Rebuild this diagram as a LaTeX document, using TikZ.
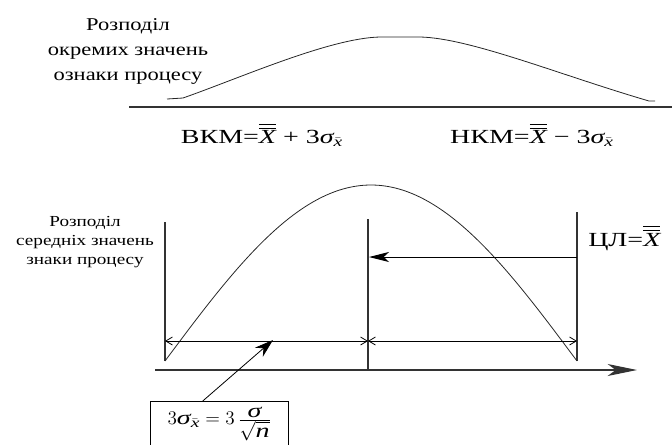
\documentclass[tikz,border=0pt]{standalone}
\usepackage{amsmath}
\usepackage{fontspec}
\setmainfont{Liberation Serif}
\newfontfamily\widefont[FakeStretch=1.25]{Liberation Serif}
\newfontfamily\formfont[FakeStretch=1.4]{Liberation Serif}
\usetikzlibrary{arrows.meta, calc}

\newcommand{\dblX}{\overline{\overline{\text{\itshape X}}}}
\newcommand{\sigx}{\text{\itshape σ}_{\bar{\text{\itshape x}}}}

\begin{document}
\begin{tikzpicture}[x=0.75pt, y=-0.75pt, >={Stealth[length=14pt, width=9pt]},
  mainline/.style={line width=0.9pt, draw=black!80},
  curveline/.style={line width=0.6pt, draw=black!85},
  dimline/.style={line width=0.6pt, {Straight Barb[length=5pt, width=6pt]}-{Straight Barb[length=5pt, width=6pt]}},
  lbl/.style={align=center, inner sep=0pt, font=\widefont}]
  \useasboundingbox (0,0) rectangle (672,444);

  % upper distribution
  \node[lbl, font=\widefont\fontsize{13.5}{18.75}\selectfont] (topTxt) at (128,51) {Розподіл\\окремих значень\\ознаки процесу};
  \coordinate (baseL) at (129,107);
  \coordinate (baseR) at (672,107);
  \draw[mainline] (baseL) -- (baseR);
  \draw[curveline] (167,99) -- (183,98) .. controls (240,78) and (330,38) .. (380,37) -- (420,37) .. controls (470,38) and (560,75) .. (649,101) -- (655,101);

  \node[inner sep=0pt, font=\formfont\fontsize{15}{18}\selectfont] (vkm) at (262,135) {ВКМ=$\dblX$ + 3$\sigx$};
  \node[inner sep=0pt, font=\formfont\fontsize{15}{18}\selectfont] (nkm) at (532,135) {НКМ=$\dblX$ − 3$\sigx$};

  % lower distribution
  \node[lbl, font=\widefont\fontsize{11.5}{14.25}\selectfont] (lowTxt) at (85,242) {Розподіл\\середніх значень\\знаки процесу};
  \node[inner sep=0pt, anchor=west, font=\formfont\fontsize{15}{18}\selectfont] (cl) at (588,238) {ЦЛ=$\dblX$};

  \coordinate (lT) at (165,222);
  \coordinate (lB) at (165,361);
  \coordinate (mT) at (368,219);
  \coordinate (mB) at (368,370);
  \coordinate (rT) at (577,212);
  \coordinate (rB) at (577,361);
  \draw[mainline] (lT) -- (lB);
  \draw[mainline] (mT) -- (mB);
  \draw[mainline] (rT) -- (rB);

  \draw[curveline] plot[domain=0:412, samples=80, smooth] ({165+\x}, {361-176*sin(0.43689*\x)});

  \coordinate (axL) at (155,370);
  \coordinate (axR) at (637,370);
  \draw[mainline, -{Stealth[length=22pt, width=9pt, inset=6pt]}] (axL) -- (axR);

  \coordinate (clR) at (577,257);
  \coordinate (clL) at (369,257);
  \draw[line width=0.7pt, -{Stealth[length=15pt, width=7.5pt, inset=4pt]}] (clR) -- (clL);

  \coordinate (dL) at (165,341);
  \coordinate (dM) at (368,341);
  \coordinate (dR) at (577,341);
  \draw[dimline] (dL) -- (dM);
  \draw[dimline] (dM) -- (dR);

  % pointer to the 3 sigma span
  \node[draw, line width=0.6pt, minimum width=103.5pt, text height=17.5pt, text depth=30pt, inner sep=0pt, anchor=north west, font=\formfont\fontsize{15}{18}\selectfont] (sbox) at (150,401) {$3\sigx = 3\,\frac{\displaystyle\text{\itshape σ}}{\displaystyle\sqrt{\text{\itshape n}}}$};
  \coordinate (ptr) at (273,340);
  \draw[line width=0.6pt, ->] ($(sbox.north west)!0.38!(sbox.north east)$) -- (ptr);
\end{tikzpicture}
\end{document}
